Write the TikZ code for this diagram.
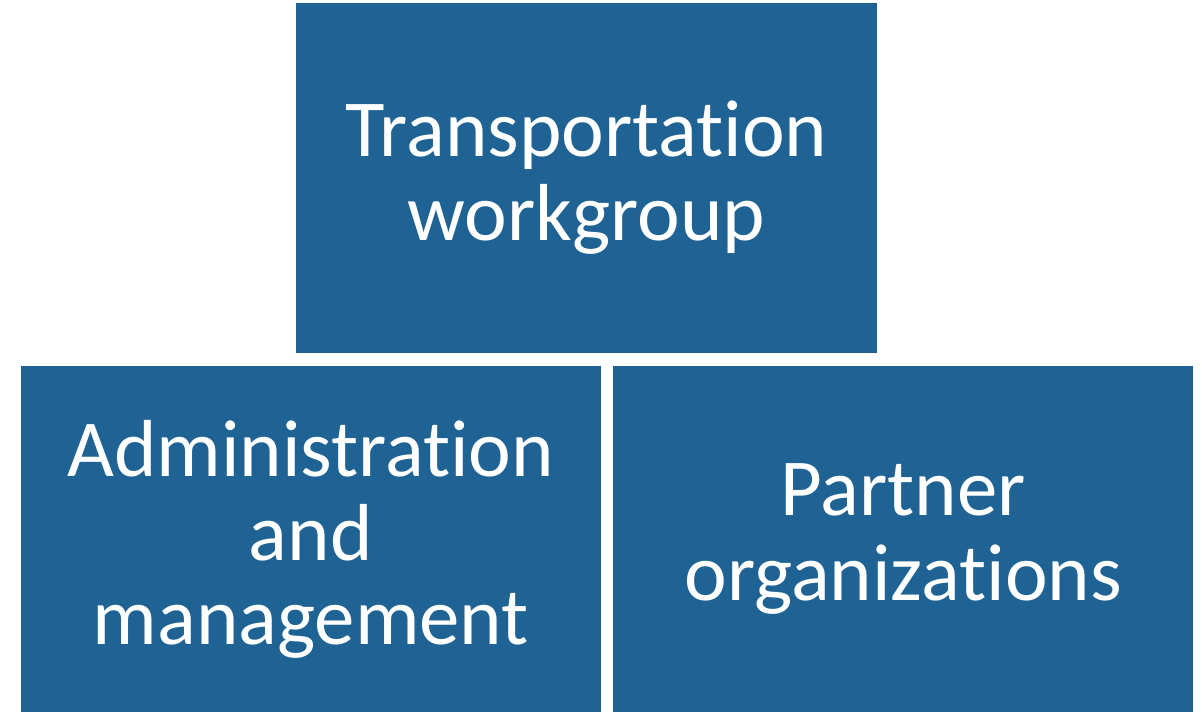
\documentclass[tikz,border=0pt]{standalone}
\usepackage{fontspec}
\setmainfont[Ligatures=NoCommon]{Carlito}
\usepackage{tikz}
\usetikzlibrary{positioning}
\definecolor{boxblue}{RGB}{31,99,148}
\tikzset{
    block/.style={rectangle,fill=boxblue,draw=none,text=white,align=center,inner sep=0pt,
        font=\fontsize{23}{23.9}\selectfont},
    topblock/.style={block,minimum width=5.807cm,minimum height=3.492cm},
    lowblock/.style={block,minimum width=5.800cm,minimum height=3.460cm},
}

\begin{document}
\begin{tikzpicture}[x=0.01cm,y=-0.01cm]
        \useasboundingbox (0,0) rectangle (1202,712);
        \node[topblock] (work) at (586.3,178.1) {Transportation\\workgroup};
        \node[lowblock] (admin) at (310.7,539) {Administration\\and\\management};
        \node[lowblock] (partner) at (903.3,539) {Partner\\organizations};
\end{tikzpicture}
\end{document}
